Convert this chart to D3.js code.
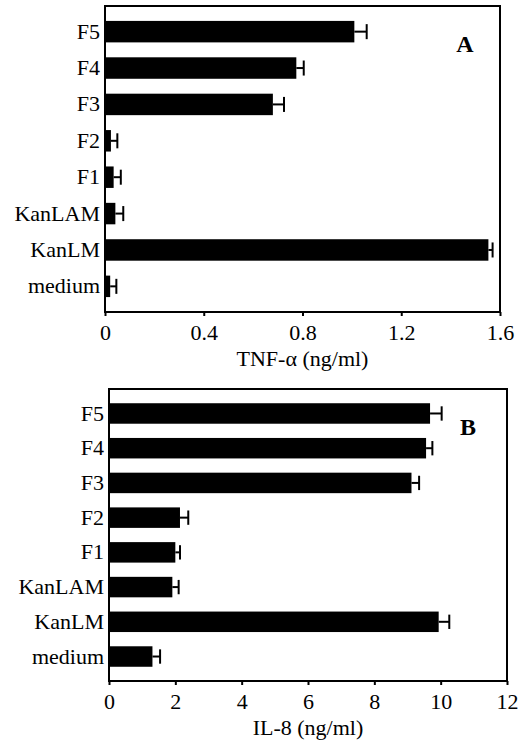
<!DOCTYPE html>
<html>
<head>
<meta charset="utf-8">
<script src="https://cdn.jsdelivr.net/npm/d3@7"></script>
<style>
  body { margin: 0; background: #fff; }
  svg text { font-family: "Liberation Serif", "Times New Roman", serif; fill: #000; }
</style>
</head>
<body>
<svg width="531" height="742"></svg>
<script>
const categories = ["F5", "F4", "F3", "F2", "F1", "KanLAM", "KanLM", "medium"]

// panel A: TNF-alpha (ng/ml), mean and upper error
const tnfMean = [1.01, 0.775, 0.68, 0.024, 0.035, 0.042, 1.553, 0.021]
const tnfErr  = [0.05, 0.03, 0.045, 0.026, 0.029, 0.032, 0.017, 0.025]
const tnfTicks = [0, 0.4, 0.8, 1.2, 1.6]

// panel B: IL-8 (ng/ml)
const il8Mean = [9.68, 9.56, 9.12, 2.14, 2.0, 1.91, 9.94, 1.31]
const il8Err  = [0.35, 0.19, 0.23, 0.25, 0.14, 0.19, 0.32, 0.23]
const il8Ticks = [0, 2, 4, 6, 8, 10, 12]

const svg = d3.select("svg")

function panel(opt) {
    const x = d3.scaleLinear().domain(opt.domain).range([opt.left, opt.right])
    const y = d3.scaleBand().domain(categories).range([opt.top, opt.bottom]).padding(0.41)
    const g = svg.append("g")

    g.selectAll("rect.bar")
        .data(opt.mean)
        .enter()
        .append("rect")
        .attr("class", "bar")
        .attr("x", x(0))
        .attr("y", (d, i) => y(categories[i]))
        .attr("width", d => x(d) - x(0))
        .attr("height", y.bandwidth())
        .attr("fill", "#000")

    const cap = y.bandwidth() * 0.7
    const eb = g.selectAll("g.err")
        .data(opt.mean)
        .enter()
        .append("g")
        .attr("class", "err")
    eb.append("line")
        .attr("x1", d => x(d))
        .attr("x2", (d, i) => x(d + opt.err[i]))
        .attr("y1", (d, i) => y(categories[i]) + y.bandwidth() / 2)
        .attr("y2", (d, i) => y(categories[i]) + y.bandwidth() / 2)
        .attr("stroke", "#000").attr("stroke-width", 2)
    eb.append("line")
        .attr("x1", (d, i) => x(d + opt.err[i]))
        .attr("x2", (d, i) => x(d + opt.err[i]))
        .attr("y1", (d, i) => y(categories[i]) + y.bandwidth() / 2 - cap / 2)
        .attr("y2", (d, i) => y(categories[i]) + y.bandwidth() / 2 + cap / 2)
        .attr("stroke", "#000").attr("stroke-width", 2)

    // frame
    g.append("rect")
        .attr("x", opt.left).attr("y", opt.top)
        .attr("width", opt.right - opt.left).attr("height", opt.bottom - opt.top)
        .attr("fill", "none").attr("stroke", "#000").attr("stroke-width", 2)

    const xAxis = g.append("g")
        .attr("transform", "translate(0," + opt.bottom + ")")
        .call(d3.axisBottom(x).tickValues(opt.ticks).tickSize(4).tickPadding(8)
            .tickFormat(opt.fmt))
    xAxis.select(".domain").remove()
    xAxis.selectAll("line").attr("stroke-width", 2)
    xAxis.selectAll("text").style("font-size", "22px").attr("fill", "#000")

    const yAxis = g.append("g")
        .attr("transform", "translate(" + opt.left + ",0)")
        .call(d3.axisLeft(y).tickSize(0).tickPadding(opt.labelPad))
    yAxis.select(".domain").remove()
    yAxis.selectAll("text").style("font-size", "22px").attr("fill", "#000")

    g.append("text")
        .attr("x", (opt.left + opt.right) / 2)
        .attr("y", opt.bottom + 54)
        .attr("text-anchor", "middle")
        .style("font-size", "22px")
        .text(opt.title)

    g.append("text")
        .attr("x", opt.letterX)
        .attr("y", opt.letterY)
        .attr("text-anchor", "middle")
        .style("font-size", "24px")
        .style("font-weight", "bold")
        .text(opt.letter)
}

panel({
    mean: tnfMean, err: tnfErr, ticks: tnfTicks, domain: [0, 1.6],
    fmt: d => d === 0 ? "0" : d3.format(".1f")(d),
    left: 105, right: 500, top: 6, bottom: 312, labelPad: 5,
    title: "TNF-\u03b1 (ng/ml)", letter: "A", letterX: 465, letterY: 52
})

panel({
    mean: il8Mean, err: il8Err, ticks: il8Ticks, domain: [0, 12],
    fmt: d3.format("d"),
    left: 109, right: 507, top: 389, bottom: 681, labelPad: 5,
    title: "IL-8 (ng/ml)", letter: "B", letterX: 468, letterY: 435
})
</script>
</body>
</html>
